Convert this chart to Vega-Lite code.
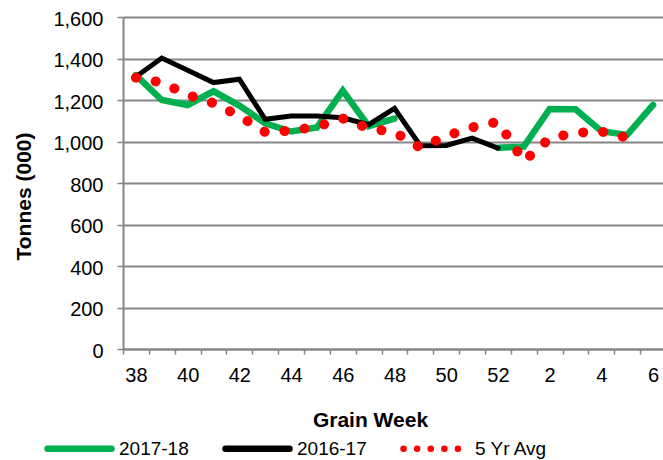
{
  "$schema": "https://vega.github.io/schema/vega-lite/v6.json",
  "width": 540,
  "height": 332,
  "autosize": {"type": "none"},
  "padding": {"left": 123, "top": 17, "right": 0, "bottom": 111},
  "background": "white",
  "config": {
    "view": {"stroke": null},
    "font": "Liberation Sans"
  },
  "data": {
    "values": [
      {"week": "38", "series": "2017-18", "value": 1320},
      {"week": "39", "series": "2017-18", "value": 1200},
      {"week": "40", "series": "2017-18", "value": 1176},
      {"week": "41", "series": "2017-18", "value": 1242},
      {"week": "42", "series": "2017-18", "value": 1173},
      {"week": "43", "series": "2017-18", "value": 1088},
      {"week": "44", "series": "2017-18", "value": 1048},
      {"week": "45", "series": "2017-18", "value": 1068},
      {"week": "46", "series": "2017-18", "value": 1245},
      {"week": "47", "series": "2017-18", "value": 1074},
      {"week": "48", "series": "2017-18", "value": 1110},
      {"week": "49", "series": "2017-18", "value": null},
      {"week": "50", "series": "2017-18", "value": null},
      {"week": "51", "series": "2017-18", "value": null},
      {"week": "52", "series": "2017-18", "value": 970},
      {"week": "1", "series": "2017-18", "value": 975},
      {"week": "2", "series": "2017-18", "value": 1157},
      {"week": "3", "series": "2017-18", "value": 1155},
      {"week": "4", "series": "2017-18", "value": 1050},
      {"week": "5", "series": "2017-18", "value": 1032},
      {"week": "6", "series": "2017-18", "value": 1176},
      {"week": "38", "series": "2016-17", "value": 1312},
      {"week": "39", "series": "2016-17", "value": 1402},
      {"week": "40", "series": "2016-17", "value": 1343},
      {"week": "41", "series": "2016-17", "value": 1284},
      {"week": "42", "series": "2016-17", "value": 1300},
      {"week": "43", "series": "2016-17", "value": 1107},
      {"week": "44", "series": "2016-17", "value": 1123},
      {"week": "45", "series": "2016-17", "value": 1123},
      {"week": "46", "series": "2016-17", "value": 1114},
      {"week": "47", "series": "2016-17", "value": 1081},
      {"week": "48", "series": "2016-17", "value": 1160},
      {"week": "49", "series": "2016-17", "value": 980},
      {"week": "50", "series": "2016-17", "value": 981},
      {"week": "51", "series": "2016-17", "value": 1016},
      {"week": "52", "series": "2016-17", "value": 968},
      {"week": "38", "series": "5 Yr Avg", "value": 1308},
      {"week": "39", "series": "5 Yr Avg", "value": 1284},
      {"week": "40", "series": "5 Yr Avg", "value": 1225},
      {"week": "41", "series": "5 Yr Avg", "value": 1185},
      {"week": "42", "series": "5 Yr Avg", "value": 1123},
      {"week": "43", "series": "5 Yr Avg", "value": 1045},
      {"week": "44", "series": "5 Yr Avg", "value": 1052},
      {"week": "45", "series": "5 Yr Avg", "value": 1072},
      {"week": "46", "series": "5 Yr Avg", "value": 1111},
      {"week": "47", "series": "5 Yr Avg", "value": 1063},
      {"week": "48", "series": "5 Yr Avg", "value": 1045},
      {"week": "49", "series": "5 Yr Avg", "value": 970},
      {"week": "50", "series": "5 Yr Avg", "value": 1027},
      {"week": "51", "series": "5 Yr Avg", "value": 1068},
      {"week": "52", "series": "5 Yr Avg", "value": 1095},
      {"week": "1", "series": "5 Yr Avg", "value": 905},
      {"week": "2", "series": "5 Yr Avg", "value": 1015},
      {"week": "3", "series": "5 Yr Avg", "value": 1042},
      {"week": "4", "series": "5 Yr Avg", "value": 1048},
      {"week": "5", "series": "5 Yr Avg", "value": 1018}
    ]
  },
  "encoding": {
    "x": {
      "field": "week",
      "type": "ordinal",
      "scale": {
        "type": "band",
        "domain": ["38","39","40","41","42","43","44","45","46","47","48","49","50","51","52","1","2","3","4","5","6"],
        "range": [0, 543],
        "paddingInner": 0,
        "paddingOuter": 0
      },
      "axis": {
        "title": "Grain Week",
        "titleFont": "Liberation Sans",
        "titleFontSize": 21,
        "titleFontWeight": "bold",
        "titleColor": "#000000",
        "titleX": 247,
        "titleY": 77,
        "titleAlign": "center",
        "titleBaseline": "alphabetic",
        "labelFont": "Liberation Sans",
        "labelFontSize": 20,
        "labelColor": "#000000",
        "labelAngle": 0,
        "labelPadding": 11,
        "labelOverlap": false,
        "labelExpr": "toNumber(datum.label) % 2 == 0 ? datum.label : ''",
        "tickBand": "extent",
        "tickSize": 5,
        "tickWidth": 1.5,
        "tickColor": "#868686",
        "domainColor": "#868686",
        "domainWidth": 2,
        "grid": false
      }
    },
    "y": {
      "field": "value",
      "type": "quantitative",
      "scale": {"domain": [0, 1600], "nice": false, "zero": true},
      "axis": {
        "title": "Tonnes (000)",
        "titleFont": "Liberation Sans",
        "titleFontSize": 21,
        "titleFontWeight": "bold",
        "titleColor": "#000000",
        "titleAngle": 270,
        "titleX": -93,
        "titleY": 179,
        "titleAlign": "center",
        "titleBaseline": "alphabetic",
        "values": [0, 200, 400, 600, 800, 1000, 1200, 1400, 1600],
        "format": ",.0f",
        "labelFont": "Liberation Sans",
        "labelFontSize": 20,
        "labelColor": "#000000",
        "labelPadding": 14,
        "labelOffset": 2,
        "tickSize": 6,
        "tickWidth": 1.5,
        "tickColor": "#868686",
        "domainColor": "#868686",
        "domainWidth": 2,
        "grid": true,
        "gridColor": "#868686",
        "gridWidth": 2
      }
    },
    "color": {
      "field": "series",
      "type": "nominal",
      "scale": {"domain": ["2017-18", "2016-17", "5 Yr Avg"], "range": ["#00B050", "#000000", "#FF0000"]},
      "legend": {
        "orient": "none",
        "legendX": -79,
        "legendY": 396,
        "direction": "horizontal",
        "title": null,
        "padding": 0,
        "symbolType": "stroke",
        "symbolSize": 4096,
        "symbolStrokeWidth": 6.5,
        "labelFont": "Liberation Sans",
        "labelFontSize": 19,
        "labelColor": "#000000",
        "labelOffset": 4,
        "columnPadding": 23,
        "encoding": {
          "symbols": {
            "strokeCap": {"value": "round"},
            "strokeDash": {"value": {"expr": "datum.value === '5 Yr Avg' ? [0.1, 13.5] : [1, 0]"}}
          }
        }
      }
    }
  },
  "layer": [
    {
      "transform": [{"filter": "datum.series === '2017-18'"}],
      "mark": {"type": "line", "strokeWidth": 6.5, "strokeCap": "round", "invalid": "break-paths-show-domains"}
    },
    {
      "transform": [{"filter": "datum.series === '2016-17'"}],
      "mark": {"type": "line", "strokeWidth": 5, "strokeCap": "round", "invalid": "break-paths-show-domains"}
    },
    {
      "transform": [{"filter": "datum.series === '5 Yr Avg'"}],
      "mark": {"type": "line", "strokeWidth": 10, "strokeCap": "round", "strokeDash": [0.1, 20], "invalid": "break-paths-show-domains"}
    }
  ]
}
